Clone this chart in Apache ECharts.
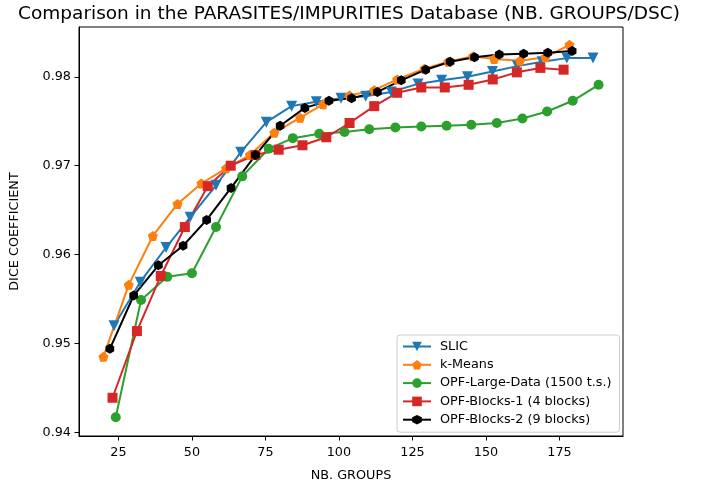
<!DOCTYPE html>
<html lang="en">
<head>
<meta charset="UTF-8">
<title>DSC comparison</title>
<script src="https://cdn.jsdelivr.net/npm/echarts@6/dist/echarts.min.js"></script>
<style>
  html, body { margin: 0; padding: 0; background: #fff; }
  #chart { width: 712px; height: 487px; }
</style>
</head>
<body>
<div id="chart"></div>
<script>
// values
var seriesNames = ['SLIC', 'k-Means', 'OPF-Large-Data (1500 t.s.)', 'OPF-Blocks-1 (4 blocks)', 'OPF-Blocks-2 (9 blocks)'];

var slicX = [23.5, 32.4, 41.2, 49.4, 58.2, 66.6, 75.3, 83.9, 92.3, 100.7, 109.1, 117.8, 126.9, 134.9, 143.7, 152.2, 160.7, 169.1, 177.5, 186.4];
var slicY = [0.9520, 0.9569, 0.9608, 0.9642, 0.9678, 0.9715, 0.9749, 0.9767, 0.9772, 0.9776, 0.9778, 0.9783, 0.9792, 0.9796, 0.9800, 0.9806, 0.9812, 0.9817, 0.9821, 0.9821];

var kmeansX = [19.9, 28.5, 36.7, 45.1, 53.2, 61.6, 69.7, 78.0, 86.8, 94.6, 103.6, 112.0, 119.8, 129.1, 137.2, 145.6, 152.8, 161.6, 170.2, 178.4];
var kmeansY = [0.9485, 0.9566, 0.9621, 0.9657, 0.9680, 0.9697, 0.9712, 0.9737, 0.9754, 0.9769, 0.9779, 0.9785, 0.9797, 0.9809, 0.9817, 0.9823, 0.9820, 0.9818, 0.9822, 0.9836];

var largeX = [24.1, 32.7, 41.6, 50.0, 58.2, 67.1, 76.1, 84.3, 93.3, 101.9, 110.3, 119.2, 128.0, 136.6, 145.0, 153.7, 162.4, 170.8, 179.5, 188.3];
var largeY = [0.9417, 0.9549, 0.9575, 0.9579, 0.9631, 0.9688, 0.9719, 0.9731, 0.9736, 0.9738, 0.9741, 0.9743, 0.9744, 0.9745, 0.9746, 0.9748, 0.9753, 0.9761, 0.9773, 0.9791];

var blocks1X = [23.0, 31.3, 39.4, 47.6, 55.4, 63.2, 71.6, 79.5, 87.6, 95.7, 103.6, 112.0, 119.8, 128.0, 136.0, 144.1, 152.3, 160.5, 168.5, 176.4];
var blocks1Y = [0.9439, 0.9514, 0.9576, 0.9631, 0.9677, 0.9700, 0.9712, 0.9718, 0.9723, 0.9732, 0.9748, 0.9767, 0.9782, 0.9788, 0.9788, 0.9791, 0.9797, 0.9805, 0.9810, 0.9808];

var blocks2X = [22.1, 30.2, 38.6, 47.0, 55.0, 63.3, 71.6, 80.0, 88.4, 96.6, 104.3, 113.1, 121.2, 129.5, 137.8, 146.1, 154.5, 162.8, 171.0, 179.3];
var blocks2Y = [0.9494, 0.9554, 0.9588, 0.9610, 0.9639, 0.9675, 0.9712, 0.9745, 0.9765, 0.9773, 0.9776, 0.9783, 0.9796, 0.9808, 0.9817, 0.9822, 0.9825, 0.9826, 0.9827, 0.9829];

var xTicks = [25, 50, 75, 100, 125, 150, 175];
var yTicks = [0.94, 0.95, 0.96, 0.97, 0.98];

function pairs(xs, ys) {
    var out = [];
    for (var i = 0; i < xs.length; i++) out.push([xs[i], ys[i]]);
    return out;
}

var FONT = 'DejaVu Sans';
var pentagon = 'path://M50,0L97.6,34.5L79.4,90.5L20.6,90.5L2.4,34.5Z';
var hexagon = 'path://M50,0L93.3,25L93.3,75L50,100L6.7,75L6.7,25Z';

function lineSeries(name, data, color, symbol, size, extra) {
    var s = {
        name: name,
        type: 'line',
        data: data,
        symbol: symbol,
        symbolSize: size,
        showAllSymbol: true,
        animation: false,
        lineStyle: { color: color, width: 2 },
        itemStyle: { color: color, borderWidth: 0, opacity: 1 }
    };
    for (var k in extra) s[k] = extra[k];
    return s;
}

var chart = echarts.init(document.getElementById('chart'));
chart.setOption({
    animation: false,
    title: {
        text: 'Comparison in the PARASITES/IMPURITIES Database (NB. GROUPS/DSC)',
        left: 344, top: 0, textAlign: 'center',
        textStyle: { fontFamily: FONT, fontSize: 18.5, fontWeight: 'normal', color: '#000' }
    },
    grid: {
        left: 73, right: 89, top: 27, bottom: 50,
        show: true, borderColor: '#000', borderWidth: 1, backgroundColor: '#fff'
    },
    legend: {
        orient: 'vertical',
        left: 397, top: 335,
        data: seriesNames,
        itemWidth: 28, itemHeight: 12, itemGap: 5.3,
        padding: [5, 8, 6, 5],
        backgroundColor: 'rgba(255,255,255,0.85)',
        borderColor: '#cccccc', borderWidth: 1, borderRadius: 3,
        textStyle: { fontFamily: FONT, fontSize: 12.8, color: '#000', padding: [0, 0, 0, 4] }
    },
    xAxis: {
        type: 'value', min: 11.6, max: 196.6,
        name: 'NB. GROUPS', nameLocation: 'middle', nameGap: 33,
        nameTextStyle: { fontFamily: FONT, fontSize: 12.8, color: '#000' },
        splitLine: { show: false },
        axisLine: { onZero: false, lineStyle: { color: '#000', width: 1 } },
        axisTick: { length: 4.5, lineStyle: { color: '#000' }, customValues: xTicks },
        axisLabel: { fontFamily: FONT, fontSize: 12.8, color: '#000', margin: 10, customValues: xTicks }
    },
    yAxis: {
        type: 'value', min: 0.9396, max: 0.9856,
        name: 'DICE COEFFICIENT', nameLocation: 'middle', nameGap: 58,
        nameTextStyle: { fontFamily: FONT, fontSize: 12.8, color: '#000' },
        splitLine: { show: false },
        axisLine: { show: true, onZero: false, lineStyle: { color: '#000', width: 1 } },
        axisTick: { show: true, length: 4.5, lineStyle: { color: '#000' }, customValues: yTicks },
        axisLabel: {
            fontFamily: FONT, fontSize: 12.8, color: '#000', margin: 8, customValues: yTicks,
            formatter: function (v) { return v.toFixed(2); }
        }
    },
    series: [
        lineSeries(seriesNames[0], pairs(slicX, slicY), '#1f77b4', 'triangle', 11, { symbolRotate: 180 }),
        lineSeries(seriesNames[1], pairs(kmeansX, kmeansY), '#ff7f0e', pentagon, 10, {}),
        lineSeries(seriesNames[2], pairs(largeX, largeY), '#2ca02c', 'circle', 10, {}),
        lineSeries(seriesNames[3], pairs(blocks1X, blocks1Y), '#d62728', 'rect', 10, {}),
        lineSeries(seriesNames[4], pairs(blocks2X, blocks2Y), '#000000', hexagon, 10, { symbolKeepAspect: true })
    ]
});
</script>
</body>
</html>
